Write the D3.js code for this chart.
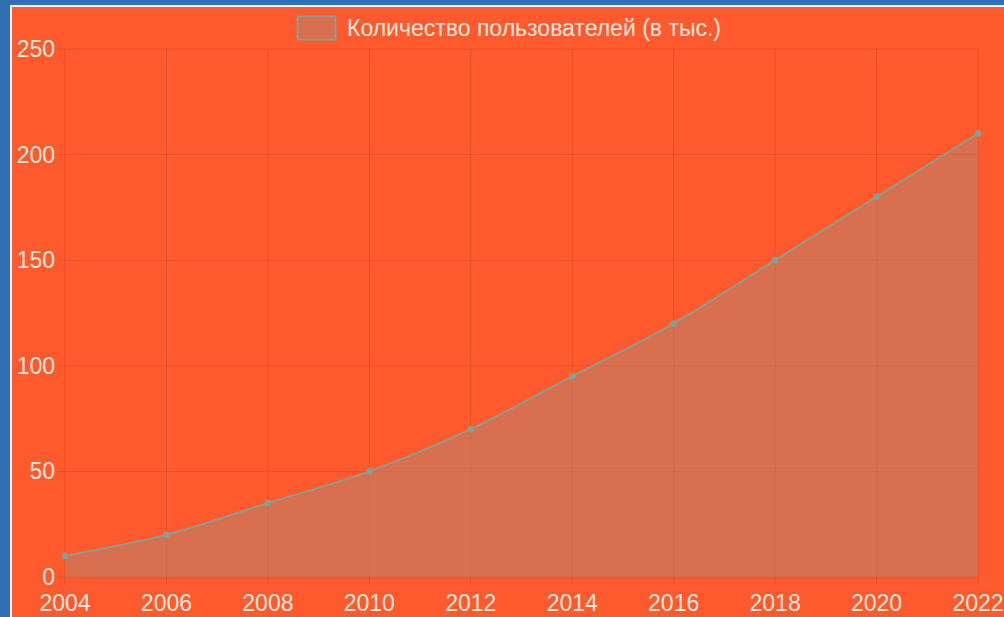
<!DOCTYPE html>
<html><head><meta charset="utf-8">
<script src="https://cdn.jsdelivr.net/npm/d3@7"></script>
<style>html,body{margin:0;padding:0;background:#2f6fb3;overflow:hidden}</style>
</head><body>
<svg id="c" width="1004" height="617"></svg>
<script>
const years = [2004,2006,2008,2010,2012,2014,2016,2018,2020,2022];
const users = [10,20,35,50,70,95,120,150,180,210];
const yTicks = [0,50,100,150,200,250];
const seriesLabel = "Количество пользователей (в тыс.)";

const svg = d3.select("#c");
const W = 1004, H = 617;
svg.append("rect").attr("width", W).attr("height", H).attr("fill", "#2f6fb3");
svg.append("rect").attr("x", 10).attr("y", 5).attr("width", W - 10).attr("height", H - 5).attr("fill", "#f4f4f4");
svg.append("rect").attr("x", 12).attr("y", 7).attr("width", W - 12).attr("height", H - 7).attr("fill", "#ff5a2e");

const x = d3.scaleLinear().domain([2004, 2022]).range([65, 978]);
const y = d3.scaleLinear().domain([0, 250]).range([577, 49]);
const font = "'Liberation Sans', Arial, sans-serif";
const txt = "#fde9de";
const grid = "rgba(0,0,0,0.1)";
const fillC = "rgba(190,125,100,0.6)";

const g = svg.append("g");
g.selectAll(".vg").data(years).join("line")
  .attr("x1", d => x(d)).attr("x2", d => x(d))
  .attr("y1", y(250)).attr("y2", y(0) + 8)
  .attr("stroke", grid).attr("stroke-width", 1);
g.selectAll(".hg").data(yTicks).join("line")
  .attr("x1", x(2004) - 8).attr("x2", x(2022))
  .attr("y1", d => y(d)).attr("y2", d => y(d))
  .attr("stroke", grid).attr("stroke-width", 1);

const area = d3.area().x((d, i) => x(years[i])).y0(y(0)).y1(d => y(d)).curve(d3.curveMonotoneX);
const line = d3.line().x((d, i) => x(years[i])).y(d => y(d)).curve(d3.curveMonotoneX);
g.append("path").datum(users).attr("d", area).attr("fill", fillC);
g.append("path").datum(users).attr("d", line).attr("fill", "none").attr("stroke", "#8f9c8e").attr("stroke-width", 2);
g.selectAll(".pt").data(users).join("circle")
  .attr("cx", (d, i) => x(years[i])).attr("cy", d => y(d)).attr("r", 3)
  .attr("fill", "#7fa39c").attr("stroke", "#8f9c8e").attr("stroke-width", 1);

g.selectAll(".yl").data(yTicks).join("text")
  .attr("x", 55).attr("y", d => y(d) + 8)
  .attr("text-anchor", "end").attr("font-family", font).attr("font-size", 23).attr("fill", txt)
  .text(d => d);
g.selectAll(".xl").data(years).join("text")
  .attr("x", d => x(d)).attr("y", 611)
  .attr("text-anchor", "middle").attr("font-family", font).attr("font-size", 23).attr("fill", txt)
  .text(d => d);

svg.append("rect").attr("x", 297.5).attr("y", 16.5).attr("width", 38).attr("height", 23)
  .attr("fill", fillC).attr("stroke", "#8f9c8e").attr("stroke-width", 2);
svg.append("text").attr("x", 347).attr("y", 36).attr("font-family", font).attr("font-size", 23)
  .attr("fill", txt).text(seriesLabel);
</script>
</body></html>
